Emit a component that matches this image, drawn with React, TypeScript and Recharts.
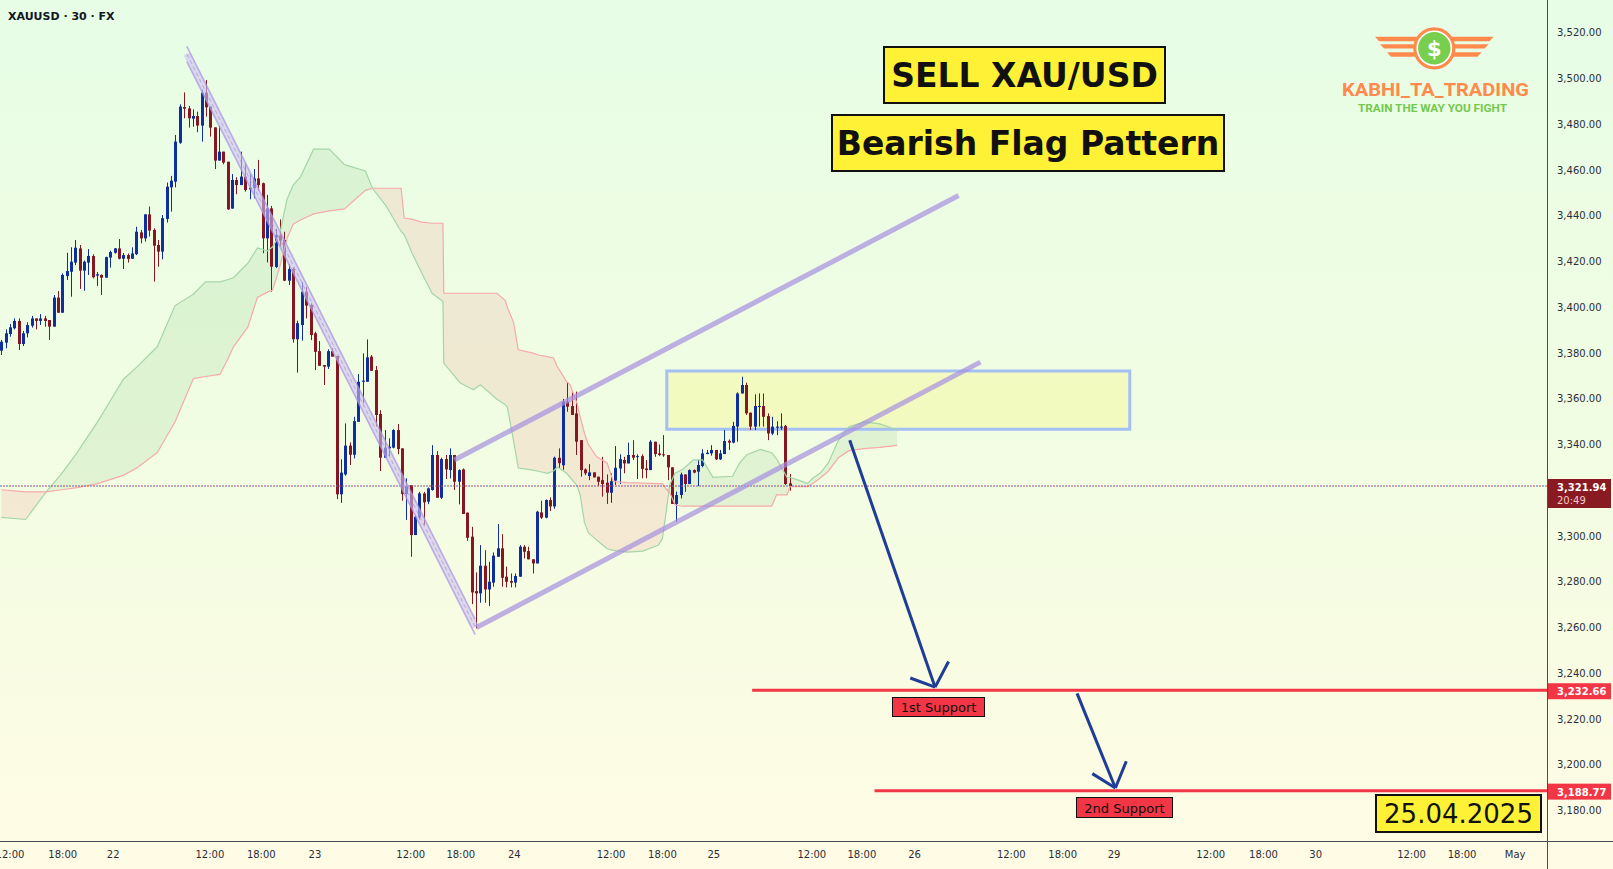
import React from 'react'
import { ComposedChart, XAxis, YAxis, Bar, Area, Line, ReferenceLine, ReferenceArea } from 'recharts'

const WIDTH = 1613
const HEIGHT = 869

// x = candle index (30 min bars), y = price
const X_DOMAIN: [number, number] = [-0.3, 354.9]
const Y_DOMAIN: [number, number] = [3166.75, 3534.4]

// the 3,320 label is hidden behind the last price tag
const priceTicks = [3180, 3200, 3220, 3240, 3260, 3280, 3300, 3340, 3360, 3380, 3400, 3420, 3440, 3460, 3480, 3500, 3520]
const timeTicks = [2.0, 14.1, 25.7, 47.9, 59.7, 72.0, 94.0, 105.5, 117.8, 140.0, 151.8, 163.6, 186.1, 197.6, 209.7, 231.9, 243.7, 255.5, 277.7, 289.8, 301.8, 323.8, 335.4, 347.6]
const timeLabels = ['12:00', '18:00', '22', '12:00', '18:00', '23', '12:00', '18:00', '24', '12:00', '18:00', '25', '12:00', '18:00', '26', '12:00', '18:00', '29', '12:00', '18:00', '30', '12:00', '18:00', 'May']

// [open, high, low, close]
const apr21 = [
  [3381.1, 3385.8, 3379.2, 3385.0], [3384.6, 3390.4, 3382.1, 3388.7], [3388.4, 3392.8, 3387.2, 3391.3], [3390.9, 3395.2, 3390.4, 3394.1],
  [3394.1, 3395.2, 3381.4, 3384.0], [3384.0, 3389.7, 3383.1, 3388.7], [3388.7, 3393.5, 3386.9, 3392.3], [3392.0, 3396.3, 3391.2, 3395.2],
  [3395.2, 3395.2, 3390.4, 3394.1], [3394.1, 3397.1, 3392.3, 3395.2], [3395.2, 3396.3, 3391.6, 3394.1], [3394.5, 3394.5, 3385.8, 3391.6],
  [3391.6, 3405.4, 3391.6, 3404.3], [3404.3, 3407.2, 3397.7, 3397.7], [3397.7, 3414.9, 3397.7, 3414.2], [3413.7, 3423.9, 3412.0, 3415.9],
  [3415.6, 3426.3, 3404.7, 3420.0], [3419.6, 3429.5, 3418.5, 3426.1], [3425.8, 3427.3, 3408.1, 3416.1], [3416.1, 3420.5, 3407.3, 3420.0],
  [3419.6, 3425.5, 3414.2, 3422.5], [3422.5, 3423.2, 3412.7, 3413.2], [3413.9, 3415.5, 3409.4, 3414.5], [3414.2, 3414.5, 3405.4, 3413.0],
  [3413.0, 3422.2, 3413.0, 3422.0], [3421.8, 3424.8, 3417.4, 3424.2],
]
const apr22 = [
  [3423.9, 3426.0, 3423.5, 3425.8], [3425.8, 3429.9, 3421.0, 3421.3], [3421.3, 3423.8, 3416.8, 3422.9], [3422.9, 3423.6, 3419.6, 3421.2],
  [3421.3, 3426.3, 3421.3, 3423.6], [3423.3, 3435.3, 3422.9, 3433.1], [3432.8, 3433.9, 3428.0, 3430.2], [3430.2, 3440.7, 3428.8, 3440.7],
  [3440.7, 3444.1, 3431.0, 3433.6], [3433.9, 3434.6, 3411.3, 3427.0], [3427.3, 3429.5, 3417.8, 3424.4], [3424.4, 3440.4, 3421.0, 3439.0],
  [3438.7, 3454.6, 3437.1, 3452.8], [3452.5, 3457.5, 3441.9, 3455.4], [3455.0, 3475.4, 3452.5, 3472.5], [3472.0, 3488.8, 3471.5, 3487.8],
  [3487.6, 3494.0, 3482.7, 3486.9], [3487.0, 3488.1, 3478.6, 3482.7], [3482.5, 3486.6, 3479.0, 3483.7], [3483.7, 3485.6, 3476.6, 3479.5],
  [3479.5, 3495.1, 3472.5, 3493.9], [3493.9, 3499.4, 3483.4, 3487.5], [3487.8, 3487.8, 3474.7, 3478.6], [3478.7, 3478.7, 3460.5, 3464.2],
  [3464.2, 3479.3, 3464.2, 3468.1], [3468.1, 3468.1, 3462.6, 3463.3], [3463.7, 3463.7, 3442.6, 3442.9], [3443.2, 3458.3, 3443.2, 3455.7],
  [3455.7, 3456.9, 3449.5, 3453.5], [3453.5, 3468.1, 3453.5, 3457.2], [3457.2, 3463.0, 3450.6, 3451.3], [3451.6, 3458.3, 3447.3, 3452.4],
  [3452.1, 3460.5, 3447.7, 3456.4], [3456.4, 3464.5, 3451.0, 3453.5], [3454.3, 3454.6, 3423.7, 3430.2], [3430.2, 3449.2, 3419.7, 3443.3],
  [3443.3, 3444.4, 3406.9, 3417.8], [3417.7, 3434.3, 3417.2, 3431.7], [3431.7, 3438.5, 3426.6, 3429.2], [3429.5, 3433.1, 3411.5, 3411.7],
  [3411.7, 3419.0, 3409.8, 3416.8], [3416.8, 3417.5, 3384.6, 3386.1], [3386.1, 3394.2, 3371.5, 3393.1], [3392.3, 3411.0, 3385.5, 3406.9],
  [3406.9, 3409.0, 3395.2, 3400.8], [3401.0, 3401.8, 3385.7, 3387.9],
]
const apr23 = [
  [3388.7, 3389.4, 3372.6, 3380.6], [3380.9, 3385.3, 3374.5, 3374.5], [3374.8, 3374.8, 3366.1, 3374.1], [3374.1, 3381.7, 3373.1, 3380.9],
  [3380.9, 3382.1, 3378.5, 3378.5], [3378.8, 3378.8, 3316.2, 3318.3], [3318.3, 3333.6, 3314.6, 3327.8], [3327.0, 3349.3, 3326.4, 3339.6],
  [3339.6, 3341.0, 3331.1, 3335.6], [3335.6, 3352.2, 3334.0, 3350.3], [3350.0, 3370.9, 3350.0, 3367.5], [3367.5, 3379.9, 3358.1, 3368.0],
  [3367.5, 3386.0, 3367.5, 3378.2], [3378.5, 3379.2, 3372.3, 3372.3], [3372.6, 3374.4, 3347.9, 3353.0], [3353.4, 3355.1, 3328.5, 3334.3],
  [3334.3, 3346.4, 3334.3, 3338.7], [3338.4, 3342.8, 3335.0, 3339.1], [3338.7, 3346.8, 3338.4, 3346.4], [3346.4, 3349.0, 3335.8, 3338.1],
  [3338.4, 3338.4, 3315.5, 3318.4], [3318.4, 3325.3, 3307.1, 3321.9], [3322.3, 3322.3, 3291.0, 3300.5], [3300.5, 3309.2, 3300.5, 3308.5],
  [3308.2, 3319.4, 3307.3, 3318.7], [3318.7, 3319.4, 3304.9, 3314.8], [3315.1, 3321.3, 3314.0, 3320.9], [3320.2, 3339.8, 3319.9, 3335.5],
  [3335.5, 3337.2, 3316.8, 3316.8], [3316.8, 3334.3, 3316.2, 3333.7], [3333.7, 3335.5, 3325.0, 3329.2], [3328.9, 3338.4, 3325.3, 3335.5],
  [3335.5, 3335.5, 3320.2, 3323.8], [3323.8, 3329.2, 3313.9, 3328.9], [3329.2, 3329.6, 3309.7, 3309.7], [3310.3, 3310.3, 3298.0, 3299.3],
  [3299.8, 3304.1, 3270.3, 3275.4], [3276.0, 3284.2, 3259.7, 3275.0], [3275.0, 3296.1, 3270.9, 3287.1], [3287.1, 3293.9, 3270.9, 3276.7],
  [3276.7, 3288.8, 3269.5, 3280.1], [3279.7, 3292.9, 3277.9, 3291.5], [3291.0, 3305.3, 3291.0, 3294.7], [3294.7, 3300.9, 3277.9, 3281.8],
  [3282.3, 3286.7, 3277.6, 3280.1], [3280.4, 3283.7, 3277.6, 3279.7],
]
const apr24 = [
  [3279.7, 3283.7, 3277.6, 3282.6], [3282.3, 3296.1, 3282.3, 3295.4], [3295.4, 3296.1, 3290.3, 3293.2], [3293.5, 3295.4, 3289.9, 3289.9],
  [3289.9, 3289.9, 3283.7, 3288.1], [3288.1, 3311.1, 3288.1, 3310.7], [3310.4, 3315.5, 3307.5, 3308.1], [3308.1, 3316.1, 3307.8, 3315.8],
  [3315.8, 3317.0, 3311.0, 3313.0], [3313.0, 3334.8, 3312.0, 3334.3], [3334.3, 3338.4, 3329.7, 3331.9], [3331.0, 3360.0, 3329.0, 3358.8],
  [3358.8, 3367.1, 3354.4, 3356.6], [3356.9, 3362.9, 3353.0, 3353.0], [3353.7, 3363.2, 3335.5, 3341.3], [3342.0, 3342.0, 3326.0, 3328.9],
  [3329.2, 3329.6, 3326.7, 3327.5], [3326.3, 3331.5, 3324.5, 3327.9], [3327.9, 3327.9, 3325.7, 3325.7], [3326.0, 3326.0, 3322.0, 3323.8],
  [3324.5, 3334.7, 3317.3, 3322.8], [3323.4, 3327.0, 3314.1, 3319.0], [3319.0, 3327.5, 3314.6, 3324.1], [3324.3, 3339.4, 3322.4, 3329.9],
  [3329.6, 3335.8, 3322.8, 3333.7], [3333.3, 3334.7, 3327.5, 3331.8], [3331.8, 3340.9, 3331.8, 3335.5], [3335.5, 3342.0, 3333.3, 3334.3],
  [3334.7, 3335.8, 3325.0, 3335.0], [3335.0, 3335.8, 3325.3, 3329.4], [3329.6, 3333.3, 3325.3, 3328.9], [3328.9, 3342.0, 3328.9, 3341.3],
  [3341.3, 3341.3, 3334.7, 3335.9], [3336.2, 3340.1, 3335.0, 3335.5], [3335.8, 3344.2, 3334.7, 3335.5], [3335.5, 3335.5, 3324.5, 3330.1],
  [3330.1, 3330.1, 3314.1, 3314.1], [3314.1, 3319.5, 3306.3, 3318.0], [3318.0, 3327.8, 3316.5, 3327.0], [3327.0, 3327.0, 3319.4, 3322.8],
  [3322.8, 3329.2, 3322.8, 3328.9], [3328.9, 3329.2, 3327.5, 3327.8], [3328.2, 3333.3, 3321.9, 3331.1], [3330.7, 3338.0, 3330.1, 3336.2],
  [3335.9, 3337.7, 3335.9, 3336.5], [3336.2, 3339.8, 3335.2, 3337.7],
]
const apr25 = [
  [3337.7, 3337.7, 3333.3, 3333.6], [3333.6, 3337.7, 3333.3, 3336.2], [3335.9, 3346.4, 3335.9, 3341.6], [3341.7, 3342.3, 3337.7, 3340.9],
  [3340.9, 3350.0, 3340.6, 3348.2], [3347.9, 3362.9, 3341.3, 3362.4], [3362.4, 3369.7, 3362.4, 3366.1], [3366.1, 3367.1, 3353.0, 3353.7],
  [3354.0, 3354.0, 3346.4, 3347.9], [3347.9, 3362.0, 3346.4, 3356.9], [3356.6, 3362.4, 3347.9, 3356.9], [3356.9, 3362.4, 3347.9, 3352.2],
  [3352.5, 3353.7, 3342.0, 3344.9], [3344.9, 3352.2, 3344.2, 3347.9], [3347.4, 3350.3, 3344.2, 3347.9], [3347.4, 3353.7, 3346.4, 3347.9],
  [3348.2, 3348.6, 3322.4, 3322.8], [3323.1, 3327.2, 3319.9, 3321.94],
]

const candles = [...apr21, ...apr22, ...apr23, ...apr24, ...apr25].map(([o, h, l, c], i) => ({ i, o, h, l, c }))

// ichimoku cloud, drawn 26 bars ahead: [bar, span A, span B]
const cloudPoints = [
  [0.0, 3308.2, 3320.3], [5.6, 3307.3, 3319.4], [10.3, 3319.4, 3319.4], [13.9, 3327.5, 3320.3], [17.4, 3336.5, 3321.2],
  [22.1, 3350.0, 3323.0], [28.0, 3368.5, 3326.6], [31.1, 3373.9, 3329.8], [35.8, 3382.8, 3336.5], [39.9, 3400.8, 3350.0],
  [44.1, 3405.8, 3368.9], [46.9, 3411.2, 3369.8], [50.2, 3411.2, 3370.7], [51.9, 3412.1, 3377.0], [53.3, 3413.0, 3382.8],
  [56.6, 3419.3, 3391.4], [58.8, 3426.0, 3404.4], [61.1, 3424.7, 3406.7], [62.3, 3426.5, 3407.6], [63.9, 3431.9, 3417.5],
  [65.6, 3447.2, 3430.1], [67.0, 3453.5, 3436.4], [68.7, 3457.1, 3438.2], [71.7, 3469.2, 3440.9], [75.3, 3469.2, 3442.2],
  [78.8, 3462.4, 3443.1], [83.6, 3459.7, 3451.2], [85.2, 3452.1, 3452.1], [88.3, 3444.5, 3452.1], [91.8, 3433.2, 3452.1],
  [92.5, 3431.9, 3439.1], [94.2, 3424.2, 3438.6], [96.5, 3415.2, 3437.3], [98.9, 3406.2, 3436.8], [101.4, 3402.6, 3436.8],
  [101.6, 3375.7, 3406.2], [105.3, 3367.1, 3406.2], [108.4, 3364.0, 3406.2], [110.0, 3366.2, 3406.2], [113.8, 3359.9, 3406.2],
  [115.7, 3357.5, 3403.1], [116.2, 3356.3, 3400.0], [117.6, 3341.9, 3393.6], [118.7, 3329.8, 3381.5], [122.1, 3328.9, 3380.0],
  [123.0, 3328.5, 3379.3], [125.4, 3327.5, 3378.5], [126.8, 3328.5, 3377.9], [127.7, 3330.2, 3374.0], [129.8, 3327.5, 3367.6],
  [130.6, 3325.7, 3366.2], [132.2, 3322.0, 3358.0], [132.9, 3318.0, 3352.3], [133.9, 3306.0, 3345.0], [134.8, 3301.5, 3340.1],
  [136.7, 3298.3, 3334.7], [139.1, 3294.5, 3332.0], [140.5, 3293.8, 3323.9], [143.8, 3293.0, 3323.4], [147.3, 3293.5, 3323.2],
  [150.9, 3296.1, 3323.0], [151.8, 3299.0, 3323.0], [152.8, 3312.7, 3320.3], [153.5, 3322.6, 3319.0], [154.7, 3327.5, 3313.6],
  [156.5, 3329.3, 3313.1], [158.9, 3333.4, 3313.1], [161.0, 3333.4, 3313.1], [162.0, 3330.2, 3313.1], [163.4, 3325.7, 3313.1],
  [167.9, 3326.2, 3313.1], [169.5, 3332.0, 3313.1], [171.2, 3335.6, 3313.1], [174.3, 3337.9, 3313.1], [176.9, 3336.5, 3313.1],
  [178.0, 3333.8, 3318.1], [180.4, 3325.7, 3318.1], [181.1, 3325.7, 3321.7], [183.2, 3324.4, 3321.7], [185.1, 3323.0, 3321.7],
  [186.3, 3325.3, 3323.0], [188.0, 3327.5, 3325.3], [189.9, 3332.0, 3328.4], [192.2, 3341.9, 3334.3], [194.6, 3347.8, 3337.4],
  [198.1, 3350.0, 3338.3], [201.7, 3349.1, 3338.8], [205.7, 3346.4, 3339.7],
]
const cloud = cloudPoints.map(([i, a, b]) => ({ i, a, b }))

// drawings, in [bar, price]
const poleStart = [42.6, 3510.8]
const poleEnd = [108.8, 3260.3]
const flagLower = [[109.1, 3260.1], [224.8, 3376.1]]
const flagUpper = [[104.0, 3333.3], [219.8, 3448.9]]
const zone = { x1: 152.8, x2: 259.1, y1: 3346.7, y2: 3372.2 }
const arrowOne = [[194.8, 3341.9], [214.4, 3234.0]]
const arrowOneHead = [[208.7, 3238.0], [217.5, 3245.2]]
const arrowTwo = [[247.0, 3231.3], [255.8, 3189.9]]
const arrowTwoHead = [[250.5, 3196.2], [258.3, 3201.6]]
const lastPrice = 3321.94
const support1 = { price: 3232.66, from: 172.4 }
const support2 = { price: 3188.77, from: 200.5 }

const BLUE = '#0f2f9f'
const RED = '#861722'
const FONT = '"DejaVu Sans", Verdana, sans-serif'

const fmt = (v: number) => v.toLocaleString('en-US', { minimumFractionDigits: 2, maximumFractionDigits: 2 })

function Candle(props: any) {
  const { x, y, width, height, payload } = props
  if (!payload || x == null) return null
  const { o, h, l, c } = payload
  const top = Math.min(y, y + height)
  const span = Math.abs(height)
  const ppu = h > l ? span / (h - l) : 0
  const cx = Math.round(x + width / 2)
  const bodyTop = top + (h - Math.max(o, c)) * ppu
  const bodyH = Math.max(1, Math.abs(o - c) * ppu)
  const col = c >= o ? BLUE : RED
  return (
    <g>
      <line x1={cx + 0.5} x2={cx + 0.5} y1={top} y2={top + span} stroke={col} strokeWidth={1} />
      <rect x={cx - 1} y={bodyTop} width={3} height={bodyH} fill={col} />
    </g>
  )
}

function TimeTick(props: any) {
  const { x, y, payload } = props
  const k = timeTicks.indexOf(payload.value)
  return (
    <text x={x} y={y + 17} textAnchor="middle" fontSize={10} fontFamily={FONT} fill="#2a2e39">
      {timeLabels[k]}
    </text>
  )
}

function PriceTick(props: any) {
  const { x, y, payload } = props
  return (
    <text x={x + 10} y={y + 3.5} fontSize={10} fontFamily={FONT} fill="#2a2e39">
      {fmt(payload.value)}
    </text>
  )
}

function PriceTag(props: any) {
  const { viewBox, text, sub, fill } = props
  if (!viewBox) return null
  const x = viewBox.x + viewBox.width
  const y = viewBox.y
  return (
    <g>
      <rect x={x} y={y - 7} width={64} height={sub ? 29 : 16} fill={fill} />
      <text x={x + 10} y={y + 5} fontSize={10} fontFamily={FONT} fill="#ffffff" fontWeight={700}>{text}</text>
      {sub && <text x={x + 10} y={y + 18} fontSize={10} fontFamily={FONT} fill="#f4c9cc">{sub}</text>}
    </g>
  )
}

const seg = (p: number[][]) => [{ x: p[0][0], y: p[0][1] }, { x: p[1][0], y: p[1][1] }] as any

export default function App() {
  const poleShift = 3.3
  return (
    <div style={{ position: 'absolute', left: 0, top: 0, width: WIDTH, height: HEIGHT, overflow: 'hidden', background: 'linear-gradient(180deg, #e7fde6 0%, #f1fde2 50%, #fffbe4 100%)' }}>
      <ComposedChart width={WIDTH} height={HEIGHT} data={candles} margin={{ top: 0, right: 0, bottom: 0, left: 0 }}>
        <XAxis type="number" dataKey="i" domain={X_DOMAIN} allowDataOverflow ticks={timeTicks} interval={0} height={28}
          tickSize={0} tickMargin={0} axisLine={false} tickLine={false} tick={TimeTick} />
        <YAxis orientation="right" domain={Y_DOMAIN} allowDataOverflow ticks={priceTicks} interval={0} width={66}
          tickSize={0} tickMargin={0} axisLine={false} tickLine={false} tick={PriceTick} />

        <Area data={cloud} dataKey={(d: any) => [d.b, Math.max(d.a, d.b)]} type="linear" stroke="none" fill="rgb(67,160,71)" fillOpacity={0.1} dot={false} activeDot={false} isAnimationActive={false} />
        <Area data={cloud} dataKey={(d: any) => [d.a, Math.max(d.a, d.b)]} type="linear" stroke="none" fill="rgb(242,54,69)" fillOpacity={0.1} dot={false} activeDot={false} isAnimationActive={false} />
        <Line data={cloud} dataKey="a" type="linear" stroke="#a5d6a7" strokeWidth={1.2} dot={false} activeDot={false} isAnimationActive={false} />
        <Line data={cloud} dataKey="b" type="linear" stroke="#f7a9a9" strokeWidth={1.2} dot={false} activeDot={false} isAnimationActive={false} />

        <ReferenceArea x1={zone.x1} x2={zone.x2} y1={zone.y1} y2={zone.y2} fill="rgb(255,241,59)" fillOpacity={0.2} stroke="#a4bff4" strokeWidth={3} ifOverflow="visible" />

        <ReferenceLine y={lastPrice} stroke="#e53935" strokeWidth={1} strokeDasharray="2 4" ifOverflow="visible" />
        <ReferenceLine y={lastPrice} stroke="#3f6fd8" strokeWidth={1} strokeDasharray="0 3 2 1" ifOverflow="visible"
          label={<PriceTag text={fmt(lastPrice)} sub="20:49" fill="#8a1a21" />} />

        <Bar dataKey={(d: any) => [d.l, d.h]} shape={Candle} barSize={3} isAnimationActive={false} />

        {/* flag pole channel */}
        <ReferenceLine segment={seg([poleStart, poleEnd])} stroke="#cdbff0" strokeOpacity={0.6} strokeWidth={7} ifOverflow="visible" />
        <ReferenceLine segment={seg([[poleStart[0], poleStart[1] + poleShift], [poleEnd[0], poleEnd[1] + poleShift]])} stroke="#a992e2" strokeOpacity={0.7} strokeWidth={1.6} ifOverflow="visible" />
        <ReferenceLine segment={seg([[poleStart[0], poleStart[1] - poleShift], [poleEnd[0], poleEnd[1] - poleShift]])} stroke="#a992e2" strokeOpacity={0.7} strokeWidth={1.6} ifOverflow="visible" />
        <ReferenceLine segment={seg([poleStart, poleEnd])} stroke="#9a82dc" strokeOpacity={0.6} strokeWidth={1} strokeDasharray="4 3" ifOverflow="visible" />

        {/* flag channel */}
        <ReferenceLine segment={seg(flagLower)} stroke="#a58ee0" strokeOpacity={0.7} strokeWidth={5} ifOverflow="visible" />
        <ReferenceLine segment={seg(flagUpper)} stroke="#a58ee0" strokeOpacity={0.7} strokeWidth={5} ifOverflow="visible" />

        {/* supports */}
        <ReferenceLine segment={seg([[support1.from, support1.price], [X_DOMAIN[1], support1.price]])} stroke="#f23645" strokeWidth={3} ifOverflow="visible"
          label={<PriceTag text={fmt(support1.price)} fill="#f23645" />} />
        <ReferenceLine segment={seg([[support2.from, support2.price], [X_DOMAIN[1], support2.price]])} stroke="#f23645" strokeWidth={3} ifOverflow="visible"
          label={<PriceTag text={fmt(support2.price)} fill="#f23645" />} />

        {/* arrows */}
        <ReferenceLine segment={seg(arrowOne)} stroke="#1f3c96" strokeWidth={3} ifOverflow="visible" />
        <ReferenceLine segment={seg([arrowOneHead[0], arrowOne[1]])} stroke="#1f3c96" strokeWidth={3} ifOverflow="visible" />
        <ReferenceLine segment={seg([arrowOneHead[1], arrowOne[1]])} stroke="#1f3c96" strokeWidth={3} ifOverflow="visible" />
        <ReferenceLine segment={seg(arrowTwo)} stroke="#1f3c96" strokeWidth={3} ifOverflow="visible" />
        <ReferenceLine segment={seg([arrowTwoHead[0], arrowTwo[1]])} stroke="#1f3c96" strokeWidth={3} ifOverflow="visible" />
        <ReferenceLine segment={seg([arrowTwoHead[1], arrowTwo[1]])} stroke="#1f3c96" strokeWidth={3} ifOverflow="visible" />
      </ComposedChart>

      {/* axis borders */}
      <div style={{ position: 'absolute', left: 0, top: 841, width: WIDTH, height: 1, background: '#4a4d57' }} />
      <div style={{ position: 'absolute', left: 1547, top: 0, width: 1, height: HEIGHT, background: '#4a4d57' }} />

      <svg width={WIDTH} height={HEIGHT} style={{ position: 'absolute', left: 0, top: 0, pointerEvents: 'none' }}>
        <text x={8} y={20} fontSize={11} fontWeight={700} fontFamily={FONT} fill="#131722">XAUUSD · 30 · FX</text>

        <rect x={884} y={47} width={281} height={56} fill="#fff236" stroke="#111" strokeWidth={2} />
        <text x={1024.5} y={87} textAnchor="middle" fontSize={33} fontWeight={700} fontFamily={FONT} fill="#111">SELL XAU/USD</text>
        <rect x={832} y={115} width={392} height={56} fill="#fff236" stroke="#111" strokeWidth={2} />
        <text x={1028} y={155} textAnchor="middle" fontSize={33} fontWeight={700} fontFamily={FONT} fill="#111">Bearish Flag Pattern</text>

        <rect x={1376} y={795} width={165} height={37} fill="#fff236" stroke="#111" strokeWidth={2} />
        <text x={1458.5} y={823} textAnchor="middle" fontSize={26} fontFamily={FONT} fill="#111">25.04.2025</text>

        <rect x={892.5} y={697.5} width={92} height={19} fill="#f23645" stroke="#111" strokeWidth={1} />
        <text x={938.5} y={712} textAnchor="middle" fontSize={13} fontFamily={FONT} fill="#111">1st Support</text>
        <rect x={1076.5} y={797.5} width={96} height={20} fill="#f23645" stroke="#111" strokeWidth={1} />
        <text x={1124.5} y={812.5} textAnchor="middle" fontSize={13} fontFamily={FONT} fill="#111">2nd Support</text>

        {/* logo */}
        <g fill="#ff8a4c">
          <polygon points="1375,36.7 1416.7,36.7 1416.7,41.3 1379,41.3" />
          <polygon points="1380,44.3 1417,44.3 1417,48.6 1384,48.6" />
          <polygon points="1387,52.3 1417,52.3 1417,56.7 1391,56.7" />
          <polygon points="1493.6,36.7 1451.9,36.7 1451.9,41.3 1489.6,41.3" />
          <polygon points="1488.6,44.3 1451.6,44.3 1451.6,48.6 1484.6,48.6" />
          <polygon points="1481.6,52.3 1451.6,52.3 1451.6,56.7 1477.6,56.7" />
        </g>
        <circle cx={1434.3} cy={48.3} r={19.5} fill="#ffffff" stroke="#ff8a4c" strokeWidth={3.2} />
        <circle cx={1434.3} cy={48.3} r={16.2} fill="#78cf4e" />
        <text x={1434.3} y={56} textAnchor="middle" fontSize={21} fontWeight={700} fontFamily={FONT} fill="#ffffff">$</text>
        <text x={1342} y={96} fontSize={18} fontWeight={700} fontFamily="Roboto, sans-serif" fill="#ff8a4c" textLength={187} lengthAdjust="spacingAndGlyphs">KABHI_TA_TRADING</text>
        <text x={1358} y={111.5} fontSize={10.5} fontWeight={700} fontFamily="Roboto, sans-serif" fill="#74c94c" textLength={149} lengthAdjust="spacingAndGlyphs">TRAIN THE WAY YOU FIGHT</text>
      </svg>
    </div>
  )
}
